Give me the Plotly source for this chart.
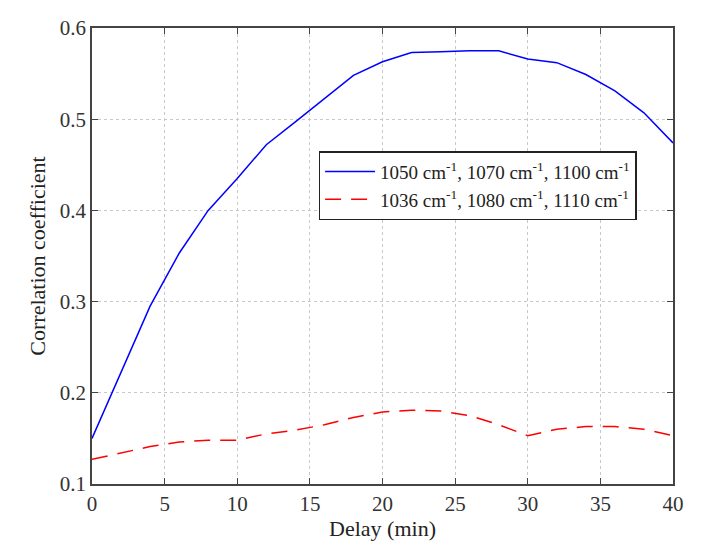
import plotly.graph_objects as go

delay = [0, 2, 4, 6, 8, 10, 12, 14, 16, 18, 20, 22, 24, 26, 28, 30, 32, 34, 36, 38, 40]
blue_vals = [0.150, 0.222, 0.295, 0.353, 0.400, 0.435, 0.472, 0.497, 0.522, 0.548, 0.563,
             0.573, 0.574, 0.575, 0.575, 0.566, 0.562, 0.549, 0.531, 0.507, 0.474]
red_vals = [0.127, 0.134, 0.141, 0.146, 0.148, 0.148, 0.155, 0.159, 0.165, 0.173, 0.179,
            0.181, 0.180, 0.175, 0.165, 0.153, 0.160, 0.163, 0.163, 0.160, 0.153]
blue_name = "1050 cm<sup>-1</sup>, 1070 cm<sup>-1</sup>, 1100 cm<sup>-1</sup>"
red_name = "1036 cm<sup>-1</sup>, 1080 cm<sup>-1</sup>, 1110 cm<sup>-1</sup>"
x_ticks = [0, 5, 10, 15, 20, 25, 30, 35, 40]
y_ticks = [0.1, 0.2, 0.3, 0.4, 0.5, 0.6]

fig = go.Figure()
fig.add_trace(go.Scatter(x=delay, y=blue_vals, mode="lines", name=blue_name,
                         line=dict(color="#0000ff", width=1.5)))
fig.add_trace(go.Scatter(x=delay, y=red_vals, mode="lines", name=red_name,
                         line=dict(color="#ff0000", width=1.5, dash="16px,10px")))

font = "Liberation Serif, Times New Roman, serif"
axis_common = dict(
    showline=True, linecolor="#444444", linewidth=1.5, mirror="ticks",
    ticks="inside", ticklen=6, tickcolor="#444444",
    showgrid=True, gridcolor="#c8c8c8", gridwidth=1, griddash="dot",
    zeroline=False, automargin=False,
    tickfont=dict(family=font, size=21, color="#333333"),
)

fig.update_layout(
    width=721, height=546,
    margin=dict(l=84, r=56, t=20, b=70),
    paper_bgcolor="white", plot_bgcolor="white",
    font=dict(family=font, color="#222222"),
    xaxis=dict(range=[0, 40], tickvals=x_ticks,
               title=dict(text="Delay (min)", font=dict(family=font, size=22, color="#222222"), standoff=4),
               **axis_common),
    yaxis=dict(range=[0.1, 0.6], tickvals=y_ticks, tickformat=".1f",
               title=dict(text="Correlation coefficient", font=dict(family=font, size=22, color="#222222"), standoff=8),
               **axis_common),
    legend=dict(x=0.39, y=0.73, xanchor="left", yanchor="top",
                bgcolor="white", bordercolor="#222222", borderwidth=1.5,
                font=dict(family=font, size=19, color="#222222"),
                itemwidth=50, tracegroupgap=0),
    showlegend=True,
)

fig.write_html("out.html")
